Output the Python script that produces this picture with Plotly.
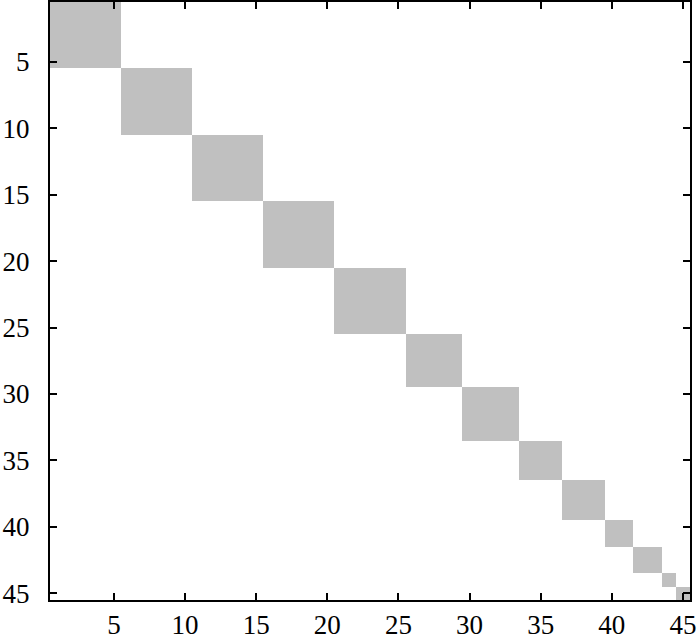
import plotly.graph_objects as go

# sizes of the diagonal blocks, in order along the diagonal
block_sizes = [5, 5, 5, 5, 5, 4, 4, 3, 3, 2, 2, 1, 1]
n = sum(block_sizes)
tick_vals = [5, 10, 15, 20, 25, 30, 35, 40, 45]

# block index for each row/column
labels = []
for k, s in enumerate(block_sizes):
    labels += [k] * s

z = [[1 if labels[i] == labels[j] else 0 for j in range(n)] for i in range(n)]
idx = list(range(1, n + 1))

fig = go.Figure(go.Heatmap(
    z=z,
    x=idx,
    y=idx,
    colorscale=[[0, "#ffffff"], [1, "#c0c0c0"]],
    showscale=False,
    hoverinfo="skip",
))

axis_style = dict(
    tickvals=tick_vals,
    ticks="inside",
    ticklen=7,
    tickwidth=2,
    tickcolor="black",
    showline=True,
    linewidth=2,
    linecolor="black",
    mirror="ticks",
    showgrid=False,
    zeroline=False,
    layer="above traces",
    tickfont=dict(family="Liberation Serif, Times New Roman, serif", size=27, color="black"),
)

fig.update_xaxes(range=[0.5, n + 0.5], ticklabelstandoff=0, automargin=False, **axis_style)
fig.update_yaxes(range=[n + 0.5, 0.5], ticklabelstandoff=13, automargin=False, **axis_style)

fig.update_layout(
    width=700,
    height=640,
    plot_bgcolor="white",
    paper_bgcolor="white",
    margin=dict(l=50, r=10, t=2, b=40),
)

# drop the default page margin so the figure sits at the window's corner
fig.write_html("out.html", config={"displayModeBar": False},
               post_script="document.body.style.margin='0';")
